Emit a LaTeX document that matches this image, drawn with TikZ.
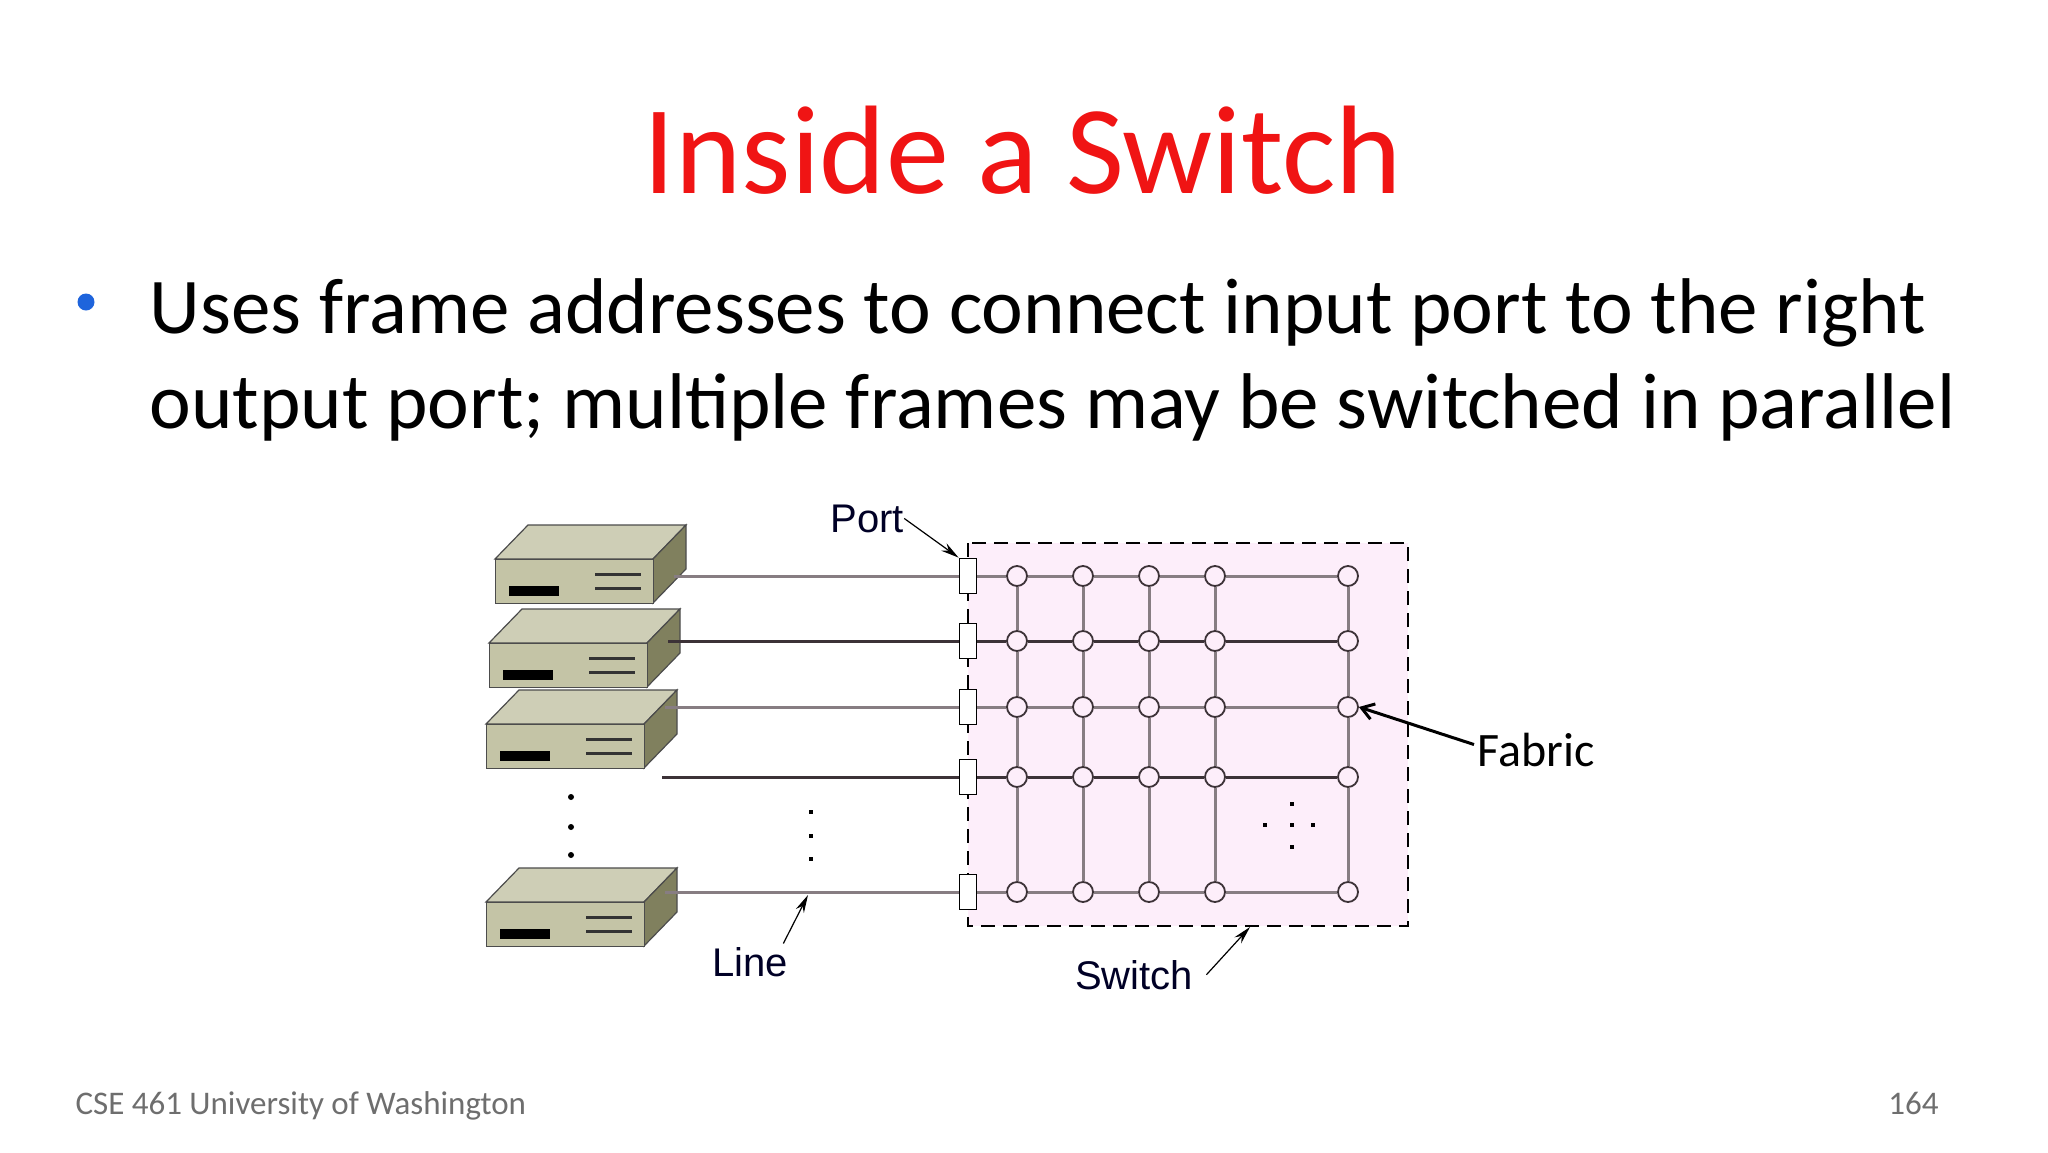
\documentclass[tikz,border=0pt]{standalone}
\usepackage{fontspec}
\setmainfont{Carlito}
\newfontfamily\arial{Liberation Sans}
\usetikzlibrary{arrows.meta}
\definecolor{tred}{RGB}{240,20,20}
\definecolor{bblue}{RGB}{30,100,220}
\definecolor{pinkf}{RGB}{253,238,250}
\definecolor{gline}{RGB}{135,125,130}
\definecolor{dline}{RGB}{60,50,55}
\definecolor{sfront}{RGB}{196,196,166}
\definecolor{stop}{RGB}{206,206,182}
\definecolor{sside}{RGB}{128,128,94}
\definecolor{footg}{RGB}{110,110,110}
\tikzset{
 srv/.style={draw=black!70,line width=1.2pt},
 port/.style={draw=black,fill=white,line width=1.8pt,minimum width=17pt,minimum height=35pt,inner sep=0pt},
 xp/.style={circle,draw=dline,fill=pinkf,line width=1.8pt,minimum size=20pt,inner sep=0pt},
 lbl/.style={font=\arial\fontsize{40}{40}\selectfont,text=black!85!blue},
 arr/.style={-{Stealth[length=18pt,width=9pt]},line width=1.5pt},
 dt/.style={fill=black,minimum size=6pt,inner sep=0pt},
 wire/.style={line width=3pt}
}
\newcommand{\server}[3]{% x,y (front top-left), name
 \fill[stop,srv] (#1,#2) -- ++(33,-34) -- ++(158,0) -- ++(-33,34) -- cycle;
 \fill[sside,srv] (#1+158,#2) -- ++(33,-34) -- ++(0,44) -- ++(-33,34) -- cycle;
 \node[srv,fill=sfront,minimum width=158pt,minimum height=44pt,inner sep=0pt,anchor=north west] (#3) at (#1,#2) {};
 \fill[black] (#1+14,#2+27) rectangle ++(50,10);
 \fill[black!80] (#1+100,#2+14) rectangle ++(46,3);
 \fill[black!80] (#1+100,#2+28) rectangle ++(46,3);
}
\begin{document}
\begin{tikzpicture}[x=1pt,y=-1pt]
\useasboundingbox[fill=white] (0,0) rectangle (2048,1152);
\node[font=\fontsize{126}{126}\selectfont,text=tred,anchor=base] (title) at (1023,193) {Inside a Switch};
\node[circle,fill=bblue,minimum size=17pt,inner sep=0pt] (bul) at (86,302) {};
\node[font=\fontsize{79}{95}\selectfont,anchor=base west] (body) at (146,333) {Uses frame addresses to connect input port to the right};
\node[font=\fontsize{79}{95}\selectfont,anchor=base west] (body2) at (146,428) {output port; multiple frames may be switched in parallel};
% switch box
\draw[fill=pinkf,dash pattern=on 14pt off 8pt,line width=1.8pt] (968,543) rectangle (1408,926);
\coordinate (swb) at (1250,927);
% servers
\server{495}{559}{s1}
\server{489}{643}{s2}
\server{486}{724}{s3}
\server{486}{902}{s5}
% ports & grid
\foreach \r/\y in {1/576,2/641,3/707,4/777,5/892}{
  \node[port] (p\r) at (968,\y) {};
  \foreach \c/\x in {1/1017,2/1083,3/1149,4/1215,5/1348}{
    \node[xp] (n\r\c) at (\x,\y) {};
  }
}
\foreach \c in {1,2,3,4,5}{
  \draw[gline,wire] (n1\c) -- (n2\c) -- (n3\c) -- (n4\c) -- (n5\c);
}
\foreach \r/\col in {1/gline,2/dline,3/gline,4/dline,5/gline}{
  \draw[\col,wire] (p\r) -- (n\r1) -- (n\r2) -- (n\r3) -- (n\r4) -- (n\r5);
}
% lines from servers
\coordinate (l4) at (662,777);
\draw[gline,wire] (p1.west) -- ([xshift=20pt]p1.west -| s1.east);
\draw[dline,wire] (p2.west) -- ([xshift=20pt]p2.west -| s2.east);
\draw[gline,wire] (p3.west) -- ([xshift=20pt]p3.west -| s3.east);
\draw[dline,wire] (l4) -- (p4.west);
\draw[gline,wire] (p5.west) -- ([xshift=20pt]p5.west -| s5.east);
% dots
\foreach \i/\y in {a/797,b/827,c/855}{\node[circle,dt] (ld\i) at (571,\y) {};}
\foreach \i/\y in {a/812,b/836,c/859}{\node[dt,minimum size=4pt] (md\i) at (811,\y) {};}
\foreach \i/\x/\y in {a/1292/804,b/1265/825,c/1292/825,d/1313/825,e/1292/847}{\node[dt,minimum size=4pt] (fd\i) at (\x,\y) {};}
% labels
\node[lbl,anchor=base] (port) at (867,532) {Port};
\draw[arr,line width=1.2pt] (port.east) ++(-3,0) -- (p1.north west);
\node[lbl,anchor=base] (line) at (750,976) {Line};
\coordinate (lt) at (808,895);
\draw[arr,line width=1.2pt] (line.north east) ++(-8,0) -- (lt);
\node[lbl,anchor=base] (swl) at (1134,989) {Switch};
\draw[arr,line width=1.2pt] (swl.east) ++(10,0) -- (swb);
\node[font=\fontsize{48}{48}\selectfont,anchor=base west] (fab) at (1474,766) {Fabric};
\draw[-{Straight Barb[length=12pt,width=16pt]},line width=3pt] (fab.west) ++(0,-5) -- (n35.east);
% footer
\node[font=\fontsize{33}{33}\selectfont,text=footg,anchor=base west] (foot) at (72,1114) {CSE 461 University of Washington};
\node[font=\fontsize{33}{33}\selectfont,text=footg,anchor=base east] (pg) at (1942,1114) {164};
\end{tikzpicture}
\end{document}
